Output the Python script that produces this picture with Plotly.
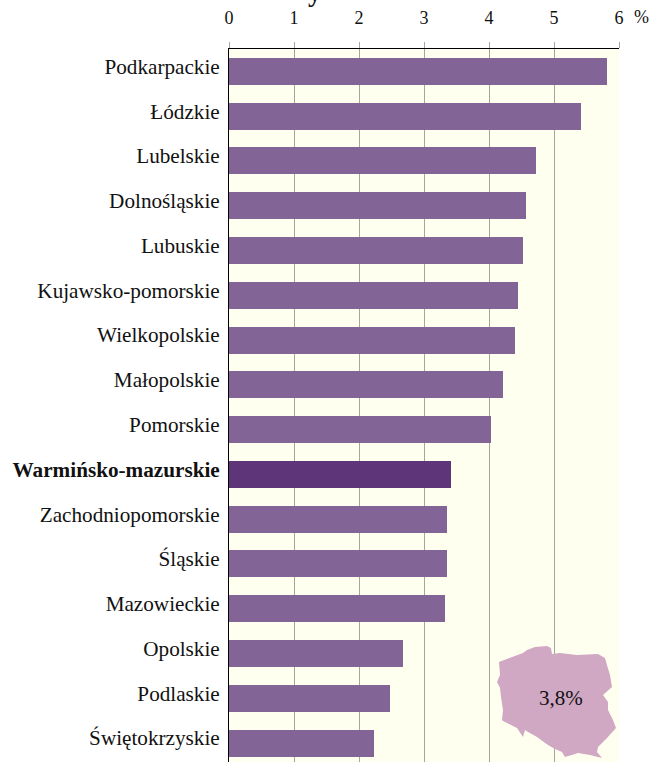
import plotly.graph_objects as go

regions = ["Podkarpackie", "Łódzkie", "Lubelskie", "Dolnośląskie", "Lubuskie", "Kujawsko-pomorskie",
           "Wielkopolskie", "Małopolskie", "Pomorskie", "Warmińsko-mazurskie", "Zachodniopomorskie",
           "Śląskie", "Mazowieckie", "Opolskie", "Podlaskie", "Świętokrzyskie"]
values = [5.82, 5.42, 4.72, 4.57, 4.52, 4.45, 4.40, 4.22, 4.03, 3.42, 3.35, 3.35, 3.32, 2.68, 2.48, 2.23]
highlight = "Warmińsko-mazurskie"
x_ticks = [0, 1, 2, 3, 4, 5, 6]
national_label = "3,8%"
# outline of the country, in page pixels
map_x = [499, 523, 527, 535, 547, 551, 552, 560, 577, 598, 605, 607, 610, 612, 603, 608, 608, 613, 616,
         607, 598, 597, 602, 590, 578, 575, 565, 562, 555, 548, 537, 528, 525, 523, 517, 503, 502, 503,
         501, 500, 497, 500]
map_y = [662, 653, 650, 647, 646, 648, 654, 653, 655, 654, 658, 665, 675, 687, 695, 702, 710, 720, 728,
         738, 747, 752, 758, 755, 753, 754, 757, 752, 749, 745, 737, 732, 730, 737, 728, 721, 720, 710,
         697, 688, 682, 675]

W, H = 658, 762
L, R, T, B = 229, 39, 49, 0
FONT = "Liberation Serif"
band = 44.8
first_center = 71
GRID = "#a6a6a0"

colors = ["#5f3579" if r == highlight else "#826496" for r in regions]
ticktext = [f"<b>{r}</b>" if r == highlight else r for r in regions]

fig = go.Figure(go.Bar(
    x=values, y=regions, orientation="h", marker=dict(color=colors, line=dict(width=0)),
    width=27 / band, hoverinfo="skip",
))

path = "M " + " L ".join(
    f"{(x - L) / (W - L - R):.4f} {(H - B - y) / (H - T - B):.4f}" for x, y in zip(map_x, map_y)) + " Z"

fig.update_layout(
    width=W, height=H, margin=dict(l=L, r=R, t=T, b=B, autoexpand=False),
    paper_bgcolor="white", plot_bgcolor="#ffffef", showlegend=False,
    font=dict(family=FONT, color="#111111"), bargap=0,
    xaxis=dict(side="top", range=[0, 6], tickvals=x_ticks, showgrid=True, gridcolor=GRID, gridwidth=1,
               ticks="outside", ticklen=6, tickcolor=GRID, tickwidth=1, tickfont=dict(size=18, family=FONT),
               showline=True, linecolor="black", linewidth=1, zeroline=False, ticklabelstandoff=11),
    yaxis=dict(type="category", categoryorder="array", categoryarray=regions, tickvals=regions, ticktext=ticktext,
               range=[len(regions) - 1 + (H - first_center - (len(regions) - 1) * band) / band, -0.5],
               showgrid=False, ticks="", showline=True, linecolor="black", linewidth=1,
               tickfont=dict(size=21.2, family=FONT), ticklabelstandoff=4, ticklabelshift=5, zeroline=False),
    shapes=[dict(type="path", xref="paper", yref="paper", path=path, fillcolor="#d0a8c4",
                 line=dict(width=0), layer="above")],
    annotations=[
        dict(text="%", xref="paper", yref="paper", x=(641 - L) / (W - L - R), y=(H - 17) / (H - T),
             showarrow=False, font=dict(size=18, family=FONT), xanchor="center", yanchor="middle"),
        dict(text=national_label, xref="x", yref="paper", x=(561 - L) / 65, y=(H - 698) / (H - T),
             showarrow=False, font=dict(size=21, family=FONT), xanchor="center", yanchor="middle"),
        dict(text="<b>y</b>", xref="paper", yref="paper", x=(315 - L) / (W - L - R), y=(H + 10) / (H - T),
             showarrow=False, font=dict(size=27, family=FONT), xanchor="center", yanchor="bottom", yshift=-19),
    ],
)
fig.write_html("out.html", config=dict(displayModeBar=False),
               post_script="document.body.style.margin='0';document.documentElement.style.overflow='hidden';")
